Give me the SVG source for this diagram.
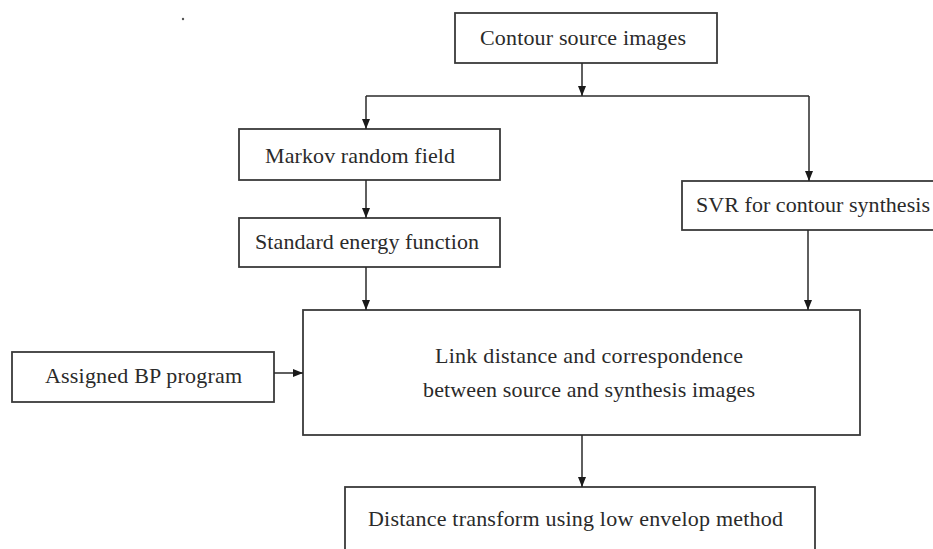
<svg xmlns="http://www.w3.org/2000/svg" width="933" height="549" viewBox="0 0 933 549">
<style>
.box{fill:#fff;stroke:#3a3a3a;stroke-width:1.8}
.lbl{font-family:"Liberation Serif","Times New Roman",serif;font-size:22px;fill:#2a2a2a}
.con{fill:none;stroke:#2a2a2a;stroke-width:1.5}
</style>
<defs>
<marker id="arr" markerUnits="userSpaceOnUse" markerWidth="10" markerHeight="8" refX="10" refY="4" orient="auto">
<path d="M0,0 L10,4 L0,8 Z" fill="#1a1a1a"/>
</marker>
</defs>
<rect width="933" height="549" fill="#fff"/>
<circle cx="183" cy="19" r="1.2" fill="#555"/>
<g id="n-contour">
<rect class="box" x="455" y="13" width="262" height="50"/>
<text class="lbl" x="480" y="45" textLength="206">Contour source images</text>
</g>
<g id="n-markov">
<rect class="box" x="239" y="129" width="261" height="51"/>
<text class="lbl" x="265" y="163" textLength="190">Markov random field</text>
</g>
<g id="n-energy">
<rect class="box" x="239" y="218" width="261" height="49"/>
<text class="lbl" x="255" y="249" textLength="224">Standard energy function</text>
</g>
<g id="n-svr">
<rect class="box" x="682" y="181" width="260" height="49"/>
<text class="lbl" x="696" y="212" textLength="234">SVR for contour synthesis</text>
</g>
<g id="n-bp">
<rect class="box" x="12" y="352" width="262" height="50"/>
<text class="lbl" x="45" y="383" textLength="197">Assigned BP program</text>
</g>
<g id="n-link">
<rect class="box" x="303" y="310" width="557" height="125"/>
<text class="lbl" x="435" y="363" textLength="308">Link distance and correspondence</text>
<text class="lbl" x="423" y="397" textLength="332">between source and synthesis images</text>
</g>
<g id="n-distance">
<rect class="box" x="345" y="487" width="470" height="75"/>
<text class="lbl" x="368" y="526" textLength="415">Distance transform using low envelop method</text>
</g>
<g id="connectors">
<path class="con" d="M582,63 V96" marker-end="url(#arr)"/>
<path class="con" d="M366,96 H809"/>
<path class="con" d="M366,96 V129" marker-end="url(#arr)"/>
<path class="con" d="M809,96 V181" marker-end="url(#arr)"/>
<path class="con" d="M366,180 V218" marker-end="url(#arr)"/>
<path class="con" d="M366,267 V310" marker-end="url(#arr)"/>
<path class="con" d="M808,230 V310" marker-end="url(#arr)"/>
<path class="con" d="M274,373 H303" marker-end="url(#arr)"/>
<path class="con" d="M582,435 V487" marker-end="url(#arr)"/>
</g>
</svg>
